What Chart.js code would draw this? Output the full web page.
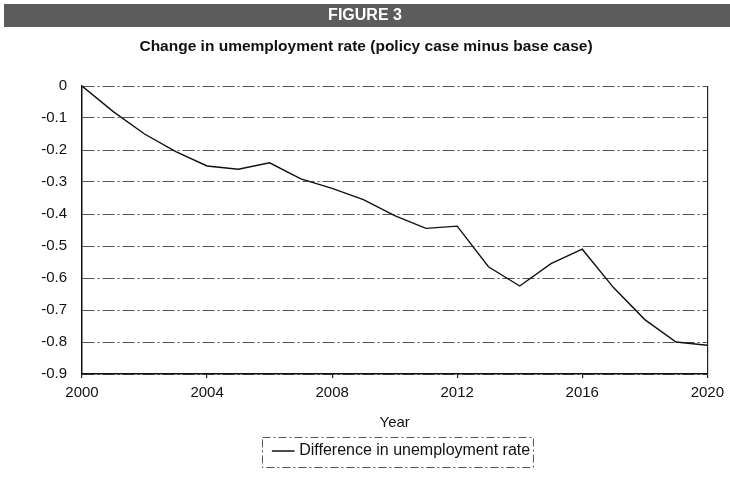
<!DOCTYPE html>
<html>
<head>
<meta charset="utf-8">
<script src="https://cdn.jsdelivr.net/npm/chart.js@4.4.1/dist/chart.umd.min.js"></script>
<style>
  html, body { margin: 0; background: #fff; }
  #wrap { width: 730px; height: 477px; position: relative; }
</style>
</head>
<body>
<div id="wrap"><canvas id="chart"></canvas></div>
<script>
// Values, one per year.
const years = [2000, 2001, 2002, 2003, 2004, 2005, 2006, 2007, 2008, 2009, 2010,
               2011, 2012, 2013, 2014, 2015, 2016, 2017, 2018, 2019, 2020];
const diffUnemployment = [0, -0.08, -0.15, -0.205, -0.25, -0.26, -0.24, -0.29, -0.32, -0.355, -0.405,
                          -0.445, -0.438, -0.565, -0.625, -0.555, -0.51, -0.63, -0.73, -0.80, -0.81];

const xTicks = [2000, 2004, 2008, 2012, 2016, 2020];
const yTicks = [-0.9, -0.8, -0.7, -0.6, -0.5, -0.4, -0.3, -0.2, -0.1, 0];
const yTickLabels = ['-0.9', '-0.8', '-0.7', '-0.6', '-0.5', '-0.4', '-0.3', '-0.2', '-0.1', '0'];

const figureLabel = 'FIGURE 3';
const chartTitle = 'Change in umemployment rate (policy case minus base case)';
const xTitle = 'Year';
const seriesLabel = 'Difference in unemployment rate';

const FONT = "'Liberation Sans', Arial, sans-serif";
const INK = '#111';

Chart.defaults.font.family = FONT;
Chart.defaults.color = INK;

// Grey header band with "FIGURE 3" and the chart title above the plot.
const headerPlugin = {
    id: 'header',
    beforeDraw(chart) {
        const { ctx, width } = chart;
        ctx.save();
        ctx.fillStyle = '#5c5c5c';
        ctx.fillRect(4, 4, width - 4, 23);
        ctx.fillStyle = '#fff';
        ctx.font = `bold 16px ${FONT}`;
        ctx.textAlign = 'center';
        ctx.textBaseline = 'middle';
        ctx.fillText(figureLabel, width / 2, 16);
        ctx.fillStyle = INK;
        ctx.font = `bold 15.5px ${FONT}`;
        ctx.fillText(chartTitle, 366, 47);
        ctx.restore();
    },
};

// Legend sits a little right of centre in the scan; nudge it, then frame it.
const LEGEND_SHIFT = { x: 8, y: 1 };
const legendFramePlugin = {
    id: 'legendFrame',
    afterLayout(chart) {
        const legend = chart.legend;
        if (!legend) return;
        legend.left += LEGEND_SHIFT.x;
        legend.right += LEGEND_SHIFT.x;
        legend.top += LEGEND_SHIFT.y;
        legend.bottom += LEGEND_SHIFT.y;
        legend.legendHitBoxes.forEach((b) => { b.left += LEGEND_SHIFT.x; b.top += LEGEND_SHIFT.y; });
    },
    afterDraw(chart) {
        const box = chart.legend && chart.legend.legendHitBoxes[0];
        if (!box) return;
        const { ctx } = chart;
        ctx.save();
        ctx.strokeStyle = '#555';
        ctx.lineWidth = 1;
        ctx.setLineDash([8, 3, 2, 3]);
        const cy = box.top + box.height / 2;
        ctx.strokeRect(Math.round(box.left - 13) + 0.5, Math.round(cy - 15) + 0.5, box.width + 16, 30);
        ctx.restore();
    },
};

new Chart(document.getElementById('chart'), {
    type: 'line',
    data: {
        datasets: [{
            label: seriesLabel,
            data: years.map((year, i) => ({ x: year, y: diffUnemployment[i] })),
            borderColor: INK,
            borderWidth: 1.4,
            pointRadius: 0,
            tension: 0,
        }],
    },
    options: {
        responsive: true,
        maintainAspectRatio: false,
        animation: false,
        layout: { padding: { top: 86, right: 18, bottom: 9, left: 0 } },
        scales: {
            x: {
                type: 'linear',
                min: 2000,
                max: 2020,
                afterBuildTicks: (scale) => { scale.ticks = xTicks.map((value) => ({ value })); },
                afterFit: (scale) => { scale.height = 60; },
                ticks: { padding: 6, font: { size: 15 }, color: INK, callback: (v) => String(v) },
                grid: {
                    // Only the right-hand frame line of the plot is drawn.
                    color: (ctx) => (ctx.tick && ctx.tick.value === 2020 ? '#222' : 'rgba(0,0,0,0)'),
                    lineWidth: 1.2,
                    tickLength: 4,
                    tickColor: '#222',
                },
                border: { color: '#111', width: 1.5 },
                title: { display: true, text: xTitle, font: { size: 15 }, color: INK, padding: { top: 4, bottom: 2 } },
            },
            y: {
                min: -0.9,
                max: 0,
                afterBuildTicks: (scale) => { scale.ticks = yTicks.map((value) => ({ value })); },
                afterFit: (scale) => { scale.width = 82; },
                ticks: { padding: 15, font: { size: 15 }, color: INK, callback: (v, i) => yTickLabels[i] },
                grid: { color: '#555', lineWidth: 1, drawTicks: false },
                border: { color: '#111', width: 1.5, dash: [12, 3, 2, 3] },
            },
        },
        plugins: {
            legend: {
                position: 'bottom',
                fullSize: false,
                labels: {
                    usePointStyle: true,
                    pointStyle: 'line',
                    boxWidth: 18,
                    padding: 8,
                    font: { size: 16 },
                    color: INK,
                },
            },
            tooltip: { enabled: false },
        },
    },
    plugins: [headerPlugin, legendFramePlugin],
});
</script>
</body>
</html>
